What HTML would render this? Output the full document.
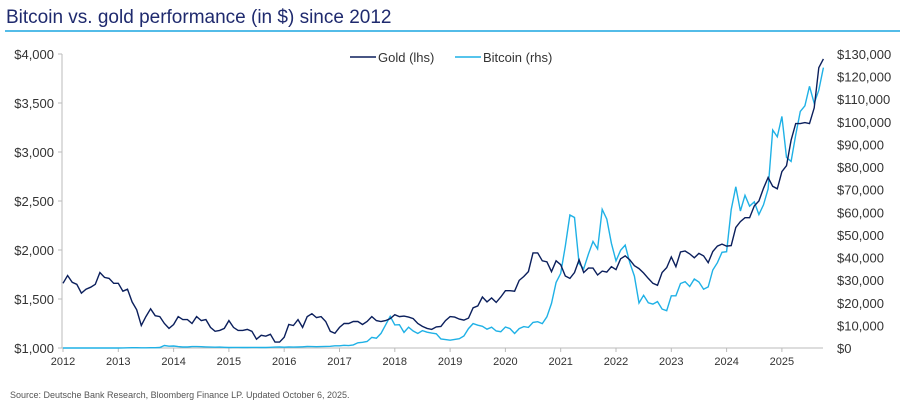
<!DOCTYPE html>
<html><head><meta charset="utf-8">
<style>
body{margin:0;background:#fff;width:900px;height:406px;overflow:hidden;font-family:"Liberation Sans",sans-serif;}
svg{display:block}
</style></head>
<body>
<svg id="chart" width="900" height="406">
<text x="6" y="23" font-size="19" fill="#1f2a6e">Bitcoin vs. gold performance (in $) since 2012</text>
<line x1="5" y1="31" x2="900" y2="31" stroke="#1aa6e0" stroke-width="1.5"/>
<text x="10" y="398" font-size="9" fill="#555">Source: Deutsche Bank Research, Bloomberg Finance LP. Updated October 6, 2025.</text>
<g>
<line x1="350" y1="57" x2="376" y2="57" stroke="#0b1f5c" stroke-width="1.5"/>
<text x="378" y="62" font-size="13" fill="#333">Gold (lhs)</text>
<line x1="455" y1="57" x2="481" y2="57" stroke="#1fb1e6" stroke-width="1.5"/>
<text x="483" y="62" font-size="13" fill="#333">Bitcoin (rhs)</text>
</g>
</svg>
<script>
const years=[2012,2013,2014,2015,2016,2017,2018,2019,2020,2021,2022,2023,2024,2025];
const leftTicks=[1000,1500,2000,2500,3000,3500,4000];
const rightTicks=[0,10000,20000,30000,40000,50000,60000,70000,80000,90000,100000,110000,120000,130000];
const gold=[1660,1740,1670,1650,1560,1600,1620,1650,1770,1720,1710,1660,
1660,1580,1600,1470,1390,1230,1320,1400,1330,1320,1250,1200,
1240,1320,1290,1290,1250,1320,1280,1290,1210,1170,1180,1200,
1280,1210,1180,1180,1190,1170,1090,1130,1120,1140,1060,1060,
1110,1240,1230,1290,1210,1320,1350,1310,1320,1270,1170,1150,
1210,1250,1250,1270,1270,1240,1270,1320,1280,1270,1280,1300,
1340,1320,1325,1315,1300,1250,1220,1200,1190,1215,1220,1280,
1320,1315,1295,1285,1305,1410,1430,1520,1470,1510,1465,1520,
1585,1585,1580,1690,1730,1780,1970,1970,1890,1880,1780,1890,
1850,1735,1710,1770,1900,1770,1815,1815,1745,1785,1775,1830,
1800,1910,1940,1900,1840,1810,1765,1710,1660,1640,1770,1820,
1930,1830,1980,1990,1960,1920,1965,1940,1870,1985,2040,2060,
2040,2045,2230,2290,2330,2330,2450,2500,2630,2740,2650,2625,
2800,2860,3120,3290,3290,3300,3290,3450,3860,3950];
const bitcoin=[5,5,5,5,5,7,9,10,12,11,12,13,
20,33,93,139,129,97,106,135,133,200,1100,800,
900,600,450,450,600,640,590,480,390,340,380,320,
220,250,250,230,230,260,280,230,235,310,380,430,
370,440,415,450,530,670,620,575,610,700,740,960,
970,1190,1080,1350,2300,2500,2870,4700,4340,6470,10200,14000,
10200,10300,6900,9200,7500,6400,7700,7000,6600,6300,4000,3700,
3450,3800,4100,5300,8600,10800,10100,9600,8300,9200,7500,7200,
9300,8600,6400,8600,9450,9100,11300,11650,10800,13800,19700,29000,
33000,45000,58800,57700,37300,35000,41500,47100,43800,61300,57000,46300,
38500,43200,45500,37700,31800,19900,23300,20000,19400,20500,17200,16500,
23100,23100,28500,29300,27200,30500,29200,26000,27000,34500,37700,42300,
42600,61200,71300,60600,67500,62700,64600,59000,63300,70300,96400,93400,
102400,84300,82500,94200,104600,107100,115700,108200,114000,124000];

const svg=document.getElementById('chart');
const NS='http://www.w3.org/2000/svg';
const X0=63,YW=55.3,YB=348,YT=54;
const x=t=>X0+(t-2012)*YW;
const yl=v=>YB-(v-1000)/3000*(YB-YT);
const yr=v=>YB-v/130000*(YB-YT);
function mk(tag,attrs){const e=document.createElementNS(NS,tag);for(const k in attrs)e.setAttribute(k,attrs[k]);svg.appendChild(e);return e;}

let e=mk('line',{x1:62,y1:yl(4000),x2:62,y2:YB,stroke:'#bbb'});


e=mk('line',{x1:62,y1:YB,x2:823,y2:YB,stroke:'#bbb'});


leftTicks.forEach(v=>{
 const y=yl(v);
 const t=mk('line',{x1:58,y1:y,x2:62,y2:y,stroke:'#bbb'});
 
 
 const l=mk('text',{x:54,y:y+5,'font-size':13,fill:'#333','text-anchor':'end'});
 l.textContent='$'+v.toLocaleString('en-US');
 
 
});
rightTicks.forEach(v=>{
 const l=mk('text',{x:837,y:yr(v)+5,'font-size':13,fill:'#333'});
 l.textContent='$'+v.toLocaleString('en-US');
 
 
});
years.forEach(yv=>{
 const xx=x(yv);
 const t=mk('line',{x1:xx,y1:YB,x2:xx,y2:YB+4,stroke:'#bbb'});
 
 
 const l=mk('text',{x:xx,y:365,'font-size':11,fill:'#333','text-anchor':'middle'});
 l.textContent=yv;
 
 
});
function path(arr,yf){return arr.map((v,i)=>(i?'L':'M')+x(2012+i/12).toFixed(1)+','+yf(v).toFixed(1)).join('');}
e=mk('path',{d:path(bitcoin,yr),fill:'none',stroke:'#1fb1e6','stroke-width':1.4});


e=mk('path',{d:path(gold,yl),fill:'none',stroke:'#0b1f5c','stroke-width':1.4});


</script>
</body></html>
